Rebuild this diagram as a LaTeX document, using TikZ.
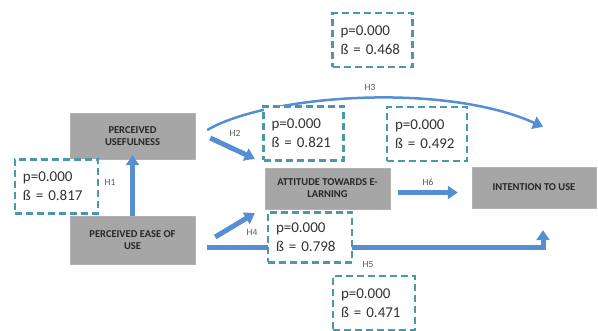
\documentclass[tikz,border=0pt]{standalone}
\usepackage{fontspec}
\setmainfont{Carlito}
\usepackage{tikz}
\usetikzlibrary{calc,arrows.meta}
\definecolor{boxgray}{RGB}{166,166,166}
\definecolor{dashblue}{RGB}{74,152,170}
\definecolor{arrowblue}{RGB}{85,142,210}
\tikzstyle{block} = [draw=black!30, fill=boxgray, rectangle, text=black!85,
    font=\fontsize{10.5}{12}\selectfont\bfseries, align=center, minimum height=46pt, minimum width=125pt]
\tikzstyle{stats} = [draw=dashblue, line width=2.4pt, dash pattern=on 7pt off 4pt, fill=white, rectangle,
    text=black!80, font=\fontsize{15}{19}\selectfont, align=left, text width=64pt, inner xsep=8pt, minimum height=54pt]
\tikzstyle{link} = [line width=5pt, arrowblue, -{Triangle[length=10pt,width=13pt]}]
\tikzstyle{hlabel} = [text=black!65, font=\fontsize{9.5}{11}\selectfont]

\begin{document}
\begin{tikzpicture}[x=1pt,y=-1pt]
\useasboundingbox (0,0) rectangle (598,331);
%% Constructs %%
\node [block] (PU) at (132.5,136) {PERCEIVED\\USEFULNESS};
\node [block, minimum height=48pt] (PEOU) at (132.5,240) {PERCEIVED EASE OF\\USE};
\node [block, minimum height=41pt] (ATT) at (327.5,188.5) {ATTITUDE TOWARDS E-\\LARNING};
\node [block, minimum height=41pt, minimum width=124pt] (ITU) at (534,187.5) {INTENTION TO USE};

%% Hypotheses %%
\draw[link, shorten >=-4pt] (PEOU.north) -- (PU.south);
\draw[link] ($(PU.east)+(15,2)$) -- ($(ATT.north west)+(-10,-9)$);
\draw[link, line width=2.5pt] ($(PU.east)+(12,-6)$) .. controls +(60,-35) and +(-100,-45) .. ($(ITU.north)+(9,-40)$);
\draw[link] ($(PEOU.east)+(20,-3)$) -- ($(ATT.south west)+(-10,4)$);
\draw[link] ($(PEOU.east)+(12,8)$) -| ($(ITU.south)+(9,22)$);
\draw[link] ($(ATT.east)+(8,4)$) -- ($(ITU.west)+(-14,5)$);

\node [hlabel] (H1) at (110,182) {H1};
\node [hlabel] (H2) at (235,133) {H2};
\node [hlabel] (H3) at (370,87) {H3};
\node [hlabel] (H4) at (252,232) {H4};
\node [hlabel] (H5) at (368,264) {H5};
\node [hlabel] (H6) at (428,182) {H6};

%% Path coefficients %%
\node [stats] (B3) at (372.5,40) {p=0.000\\ß = 0.468};
\node [stats] (B2) at (303.5,133.5) {p=0.000\\ß = 0.821};
\node [stats] (B6) at (427,134) {p=0.000\\ß = 0.492};
\node [stats, text width=67pt] (B1) at (56.5,186.5) {p=0.000\\ß = 0.817};
\node [stats, text width=68pt, minimum height=50pt] (B4) at (310,237.5) {p=0.000\\ß = 0.798};
\node [stats, text width=66pt] (B5) at (374,303) {p=0.000\\ß = 0.471};
\end{tikzpicture}
\end{document}
